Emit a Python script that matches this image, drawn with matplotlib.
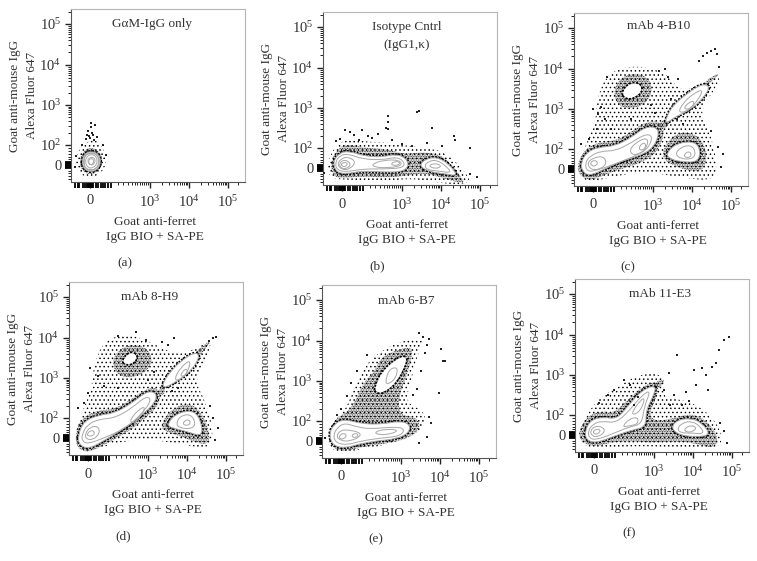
import matplotlib
matplotlib.use("Agg")
import matplotlib.pyplot as plt
from matplotlib.patches import PathPatch
from matplotlib.path import Path
import numpy as np

plt.rcParams['font.family'] = ['Liberation Serif', 'DejaVu Sans']
plt.rcParams['mathtext.fontset'] = 'custom'
plt.rcParams['mathtext.rm'] = 'Liberation Serif'
plt.rcParams['mathtext.default'] = 'rm'
plt.rcParams['hatch.linewidth'] = 0.55

W, H = 757, 561
TEXT = '#333333'
GREY = '#a8a8a8'

# all populations are in axis channels, 0,0 is the "0" tick on both axes
x_ticks = [0, 60, 99, 138]
x_labels = ['0', '$10^{3}$', '$10^{4}$', '$10^{5}$']
y_ticks = [0, 20, 60, 100, 141]
y_labels = ['0', '$10^{2}$', '$10^{3}$', '$10^{4}$', '$10^{5}$']
x_minor = [28, 33, 38, 42, 45, 47, 50, 52, 54, 56, 58,
           72, 79, 84, 87, 90, 92, 94, 96, 97,
           111, 118, 123, 126, 129, 131, 133, 135, 136, 148]
y_minor = [-14, -11, -8, -6, 6, 8, 11, 14, 17,
           32, 39, 44, 48, 51, 53, 55, 57, 58,
           72, 79, 84, 87, 90, 92, 94, 96, 98,
           113, 120, 125, 128, 131, 133, 135, 137, 139, 153]
x_rug = [-15, -12, -11, -7, -5, -3, -2, -1, 0, 1, 2, 3, 6, 8, 11, 13, 15, 18, 21]
y_rug = [-3, -2, -1, 0, 1, 2, 3]

a_sparse = [[(-15, 2), (-11, 16), (-3, 24), (7, 25), (14, 16), (17, 3), (11, -9), (0, -13), (-11, -9)]]
a_dense = [[(-11, 2), (-8, 13), (0, 18), (10, 14), (13, 3), (8, -7), (0, -10), (-8, -6)]]
a_contours = [[(-8, 3), (-6, 11), (1, 14), (9, 11), (11, 2), (7, -5), (0, -7), (-6, -4)],
              [(-7, 3), (-5, 10), (1, 13), (8, 10), (10, 2), (6, -4), (0, -6), (-5, -3)],
              [(-6, 3), (-5, 10), (1, 12), (8, 10), (9, 2), (6, -4), (0, -5), (-5, -3)],
              [(-5, 3), (-3, 9), (2, 11), (7, 8), (7, 1), (3, -3), (-2, -3)],
              [(-3, 4), (0, 8), (5, 7), (5, 2), (1, -1)],
              [(-2, 4), (1, 7), (4, 5), (3, 1), (0, 0)]]
a_dots = [(0, 27), (3, 30), (-2, 34), (1, 38), (5, 40), (-4, 26), (7, 28), (2, 32), (-1, 29),
          (4, 25), (-3, 30), (1, 42), (-8, 20), (13, 20), (16, 10), (-15, -2), (-14, 9)]

b_sparse = [[(-15, 2), (-9, 20), (6, 30), (24, 26), (45, 26), (66, 22), (85, 20), (103, 16), (120, 0),
             (131, -16), (100, -16), (70, -10), (40, -14), (15, -12), (-12, -11)]]
b_dense = [[(-12, 5), (-4, 20), (6, 24), (24, 20), (45, 19), (62, 14), (72, 15), (84, 16), (102, 12),
            (117, -6), (124, -16), (106, -12), (85, -5), (68, -7), (45, -10), (20, -8), (0, -11), (-9, -8)]]
b_contours = [[(-9, 6), (-3, 15), (7, 17), (22, 12), (40, 11), (54, 14), (64, 10), (67, 2), (60, -4),
               (40, -4), (20, -3), (4, -6), (-6, -4)],
              [(-7, 5), (-2, 13), (7, 14), (20, 9), (40, 8), (54, 11), (62, 7), (62, 0), (40, -1), (20, -1), (4, -4), (-5, -2)],
              [(-5, 4), (0, 10), (7, 11), (14, 6), (8, -1), (0, -2)],
              [(-3, 4), (1, 8), (6, 7), (9, 3), (4, -1), (-1, 0)],
              [(-1, 4), (3, 6), (6, 4), (3, 1), (0, 2)],
              [(30, 4), (42, 8), (58, 8), (60, 2), (44, 0), (32, 1)],
              [(48, 4), (54, 7), (59, 5), (54, 2)],
              [(77, 2), (83, 9), (95, 11), (107, 4), (116, -8), (104, -6), (88, -4)],
              [(82, 2), (87, 7), (95, 8), (104, 2), (110, -5), (96, -3), (86, -2)],
              [(86, 2), (93, 5), (100, 2), (94, -1)]]
b_dots = [(-2, 29), (3, 38), (8, 36), (12, 33), (20, 38), (17, 28), (30, 30), (36, 34), (44, 40), (46, 52),
          (46, 46), (46, 39), (75, 56), (77, 57), (90, 40), (112, 32), (113, 28), (128, 20), (60, 24),
          (70, 22), (100, 22), (85, 25), (50, 28), (-6, 27), (26, 32), (135, -9), (128, -6), (-18, -5)]

c_sparse = [[(-15, 3), (-6, 27), (3, 48), (4, 72), (16, 98), (45, 104), (74, 96), (88, 76), (118, 90), (127, 96),
             (125, 84), (106, 58), (116, 40), (124, 8), (122, -12), (90, -9), (50, -2), (10, -10), (-8, -14)]]
c_dense = [[(-16, 5), (-8, 20), (6, 27), (22, 28), (38, 37), (52, 47), (68, 48), (72, 36), (64, 16), (48, 6), (28, 0), (12, -6), (-4, -12), (-14, -6)],
           [(20, 76), (26, 90), (39, 96), (54, 93), (60, 80), (54, 66), (40, 60), (26, 62)],
           [(69, 17), (76, 30), (90, 38), (106, 33), (114, 18), (112, 0), (100, -3), (84, 2), (72, 8)],
           [(64, 42), (70, 50), (78, 48), (73, 40)],
           [(112, 82), (122, 90), (126, 96), (122, 94), (112, 88)]]
c_whites = [[(29, 77), (37, 86), (47, 85), (49, 78), (41, 71), (32, 71)]]
c_contours = [[(-12, 7), (-6, 17), (6, 22), (22, 23), (39, 32), (52, 42), (64, 42), (66, 33), (59, 20), (46, 13), (26, 7), (12, 0), (-4, -7), (-11, -2)],
              [(-8, 6), (-3, 13), (8, 18), (22, 18), (38, 26), (52, 35), (60, 33), (55, 20), (42, 13), (22, 5), (5, -1), (-6, -3)],
              [(-6, 6), (0, 11), (10, 13), (14, 6), (8, 0), (-2, -1)],
              [(-3, 6), (1, 9), (5, 7), (3, 3), (-1, 3)],
              [(36, 20), (48, 30), (56, 30), (52, 18), (40, 13)],
              [(46, 23), (52, 27), (53, 21), (47, 18)],
              [(72, 48), (79, 63), (96, 77), (109, 85), (117, 83), (112, 73), (99, 60), (82, 52), (74, 46)],
              [(85, 56), (90, 66), (100, 75), (110, 80), (106, 70), (95, 58)],
              [(90, 60), (96, 67), (102, 68), (98, 60)],
              [(73, 15), (82, 25), (99, 28), (107, 22), (106, 7), (89, 7), (77, 10)],
              [(82, 15), (88, 22), (98, 24), (103, 17), (100, 10), (88, 10)],
              [(91, 14), (95, 18), (99, 15), (96, 11), (92, 12)]]
c_dots = [(110, 113), (114, 116), (118, 118), (122, 120), (106, 108), (124, 115), (126, 102), (85, 90), (72, 100),
          (75, 92), (66, 98), (5, 55), (-4, 30), (0, 60), (8, 62), (14, 92), (12, 50), (130, 15), (128, 2),
          (125, 22), (118, 38), (90, 45), (84, 50), (4, 40), (-12, 25), (18, 40), (38, 50), (62, 56), (58, 64), (78, 70)]

d_sparse = [[(-14, 2), (-6, 26), (4, 50), (6, 76), (18, 100), (45, 104), (74, 90), (92, 82), (120, 96), (124, 98),
             (118, 78), (106, 58), (118, 36), (126, 5), (120, -12), (95, -6), (50, 0), (10, -10), (-6, -15)]]
d_dense = [[(-13, 3), (-7, 20), (10, 28), (27, 29), (44, 39), (59, 50), (72, 50), (72, 34), (56, 18), (38, 5), (18, -6), (0, -15), (-11, -10)],
           [(24, 76), (30, 88), (44, 94), (60, 90), (65, 76), (56, 64), (40, 60), (28, 64)],
           [(72, 12), (82, 28), (100, 36), (114, 26), (122, 4), (120, -7), (106, -4), (92, 2), (78, 6)],
           [(69, 44), (73, 52), (78, 49), (75, 42)],
           [(106, 84), (114, 92), (124, 98), (118, 90), (112, 82)]]
d_whites = [[(34, 77), (42, 86), (49, 83), (47, 76), (39, 73)]]
d_contours = [[(-10, 3), (-4, 17), (11, 23), (27, 25), (44, 35), (59, 47), (69, 45), (67, 35), (54, 23), (37, 10), (17, -2), (1, -11), (-9, -7)],
              [(-6, 4), (0, 14), (12, 19), (27, 20), (44, 30), (58, 42), (64, 38), (52, 22), (36, 9), (16, 0), (0, -6), (-6, -3)],
              [(-3, 4), (2, 11), (10, 12), (12, 5), (5, -2), (-2, -1)],
              [(-1, 4), (3, 8), (7, 6), (5, 2), (0, 2)],
              [(42, 18), (50, 28), (58, 32), (52, 20), (44, 14)],
              [(74, 53), (81, 65), (94, 78), (107, 86), (112, 82), (104, 68), (91, 58), (77, 50)],
              [(86, 58), (92, 70), (103, 79), (100, 66), (92, 58)],
              [(92, 63), (98, 70), (100, 66), (95, 61)],
              [(79, 13), (86, 23), (101, 28), (111, 23), (116, 1), (97, 7), (84, 10)],
              [(88, 14), (92, 22), (103, 24), (108, 14), (103, 9), (92, 10)],
              [(94, 14), (99, 19), (103, 16), (100, 12)]]
d_dots = [(125, 100), (128, 101), (121, 97), (86, 100), (80, 93), (74, 96), (2, 70), (0, 45), (-4, 35), (10, 62), (16, 52),
          (-10, 30), (130, 10), (127, -2), (125, 20), (122, 32), (90, 50), (84, 47), (30, 50), (60, 58), (66, 66), (58, 98), (48, 106), (30, 102)]

e_sparse = [[(-13, 6), (-8, 20), (4, 30), (12, 50), (24, 76), (40, 90), (60, 100), (84, 104), (76, 85), (70, 60),
             (64, 38), (84, 30), (84, 14), (70, 5), (45, -4), (20, -8), (4, -12), (-10, -9)]]
e_dense = [[(-13, 6), (-7, 21), (4, 28), (12, 35), (22, 58), (34, 70), (40, 84), (58, 92), (72, 94), (70, 80), (64, 60),
            (58, 46), (58, 26), (76, 24), (80, 12), (68, 3), (50, -2), (20, -6), (4, -11), (-9, -7)]]
e_whites = [[(34, 53), (40, 68), (55, 82), (65, 85), (65, 77), (55, 58), (42, 48), (35, 49)]]
e_contours = [[(-12, 7), (-7, 17), (3, 22), (22, 17), (42, 17), (58, 20), (69, 17), (68, 8), (55, 2), (35, 0), (18, -3), (5, -7), (-8, -5)],
              [(-8, 6), (-3, 14), (4, 18), (16, 14), (30, 12), (50, 14), (64, 13), (60, 5), (40, 3), (20, 0), (6, -4), (-5, -2)],
              [(-5, 5), (0, 11), (7, 11), (18, 9), (20, 5), (10, 0), (0, 0)],
              [(-2, 5), (2, 8), (6, 6), (3, 2), (-1, 2)],
              [(10, 5), (14, 8), (18, 6), (14, 3)],
              [(33, 9), (45, 12), (58, 11), (50, 7), (38, 6)],
              [(44, 58), (48, 72), (57, 74), (55, 63), (48, 57)]]
e_dots = [(100, 92), (102, 80), (104, 80), (98, 48), (88, 102), (86, 96), (82, 104), (78, 108), (84, 88), (80, 70),
          (76, 52), (72, 46), (88, 24), (90, 18), (6, 45), (0, 32), (16, 70), (26, 86), (10, 58), (-4, 26), (-16, 3), (86, 4), (78, -2)]

f_sparse = [[(-16, 3), (-6, 22), (4, 36), (26, 50), (48, 62), (72, 60), (68, 38), (84, 36), (104, 30), (124, 12), (130, -12),
             (100, -14), (60, -11), (20, -12), (2, -14), (-13, -9)]]
f_dense = [[(-16, 3), (-6, 20), (8, 24), (20, 22), (30, 32), (50, 50), (66, 55), (62, 35), (55, 22), (60, 14), (78, 16), (97, 22),
            (112, 15), (125, -2), (120, -14), (100, -8), (80, -6), (60, -8), (40, -6), (18, -7), (2, -12), (-12, -8)],
           [(58, 46), (62, 54), (72, 56), (66, 47)]]
f_contours = [[(-9, 5), (-3, 15), (8, 18), (23, 16), (33, 28), (48, 45), (62, 50), (60, 40), (52, 25), (52, 8), (38, 5), (18, -2), (2, -8), (-8, -5)],
              [(-6, 4), (-1, 11), (8, 14), (22, 12), (35, 24), (48, 40), (57, 45), (50, 28), (48, 11), (35, 8), (18, 1), (2, -5), (-5, -3)],
              [(-4, 4), (1, 9), (9, 8), (11, 3), (4, -2), (-2, -1)],
              [(-1, 4), (3, 6), (7, 5), (4, 1), (0, 1)],
              [(28, 8), (35, 16), (44, 18), (44, 11), (35, 9)],
              [(36, 20), (48, 37), (51, 35), (45, 22)],
              [(77, 7), (83, 15), (97, 17), (108, 12), (117, 0), (102, -2), (85, 0)],
              [(83, 6), (88, 12), (98, 14), (107, 8), (110, 1), (98, 2), (87, 2)],
              [(90, 6), (97, 10), (103, 7), (98, 3), (92, 3)]]
f_dots = [(135, 98), (130, 95), (125, 85), (118, 68), (108, 67), (100, 65), (83, 80), (92, 43), (75, 62), (122, 72), (112, 60),
          (70, 45), (80, 40), (76, 30), (95, 34), (88, 30), (130, 4), (133, -8), (126, 12), (30, 55), (36, 50), (14, 40), (20, 45),
          (5, 32), (44, 38), (40, 30), (102, 50), (114, 45)]

# letter, label lines, label centre, left px, top px, then the populations
panels = [
    ('a', ['G\u03b1M-IgG only'], (62, 141), 71, 9, a_sparse, a_dense, [], a_contours, a_dots),
    ('b', ['Isotype Cntrl', '(IgG1,\u03ba)'], (65, 141), 323, 12, b_sparse, b_dense, [], b_contours, b_dots),
    ('c', ['mAb 4-B10'], (66, 143), 574, 13, c_sparse, c_dense, c_whites, c_contours, c_dots),
    ('d', ['mAb 8-H9'], (62, 141), 69, 282, d_sparse, d_dense, d_whites, d_contours, d_dots),
    ('e', ['mAb 6-B7'], (65, 140), 322, 285, e_sparse, e_dense, e_whites, e_contours, e_dots),
    ('f', ['mAb 11-E3'], (66, 141), 575, 279, f_sparse, f_dense, [], f_contours, f_dots),
]


def blob(points):
    # closed quadratic spline through the edge midpoints
    pts = np.array(points, dtype=float)
    mids = (pts + np.roll(pts, -1, axis=0)) / 2
    verts = [mids[-1]]
    codes = [Path.MOVETO]
    for p, m in zip(pts, mids):
        verts += [p, m]
        codes += [Path.CURVE3, Path.CURVE3]
    return Path(verts, codes)


def stipple(ax, p, n, z):
    ax.add_patch(PathPatch(blob(p), fill=False, edgecolor='black', hatch='.' * n, lw=0, zorder=z))


fig = plt.figure(figsize=(W / 100, H / 100), dpi=100)

for letter, title, title_pos, left, top, sparse, dense, whites, contours, dots in panels:
    ax = fig.add_axes([left / W, 1 - (top + 173) / H, 174 / W, 173 / H])
    ax.set_xlim(-19, 155)
    ax.set_ylim(-17, 156)

    for p in sparse:
        stipple(ax, p, 4, 1)
    for p in dense:
        stipple(ax, p, 10, 2)
    # the black rim that hugs the outer contours
    for p in contours:
        if len(p) > 5:
            ax.add_patch(PathPatch(blob(p), fill=False, edgecolor='black', lw=2.6, ls=(0, (0.5, 0.4)), zorder=2.5))
    for p in whites:
        ax.add_patch(PathPatch(blob(p), fill=False, edgecolor='black', lw=2.6, ls=(0, (0.5, 0.4)), zorder=2.5))
        ax.add_patch(PathPatch(blob(p), facecolor='white', edgecolor='none', zorder=3))
    for p in contours:
        if len(p) > 5:
            ax.add_patch(PathPatch(blob(p), facecolor='white', edgecolor='none', zorder=3))
    for p in contours:
        ax.add_patch(PathPatch(blob(p), fill=False, edgecolor=GREY, lw=0.7, zorder=4))
    ax.scatter([d[0] for d in dots], [d[1] for d in dots], s=1.0, c='#222222', marker='s', lw=0, zorder=5)

    for i, line in enumerate(title):
        ax.text(title_pos[0], title_pos[1] - 18 * i, line, ha='center', va='center', fontsize=9.5, color=TEXT)

    ax.set_xticks(x_ticks, x_labels)
    ax.set_yticks(y_ticks, y_labels)
    ax.set_xticks(x_minor, minor=True)
    ax.set_yticks(y_minor, minor=True)
    ax.tick_params(which='major', length=4, width=1, color='#222222', labelsize=10.5, labelcolor=TEXT)
    ax.tick_params(which='minor', length=2.5, width=0.7, color='#222222')
    ax.tick_params(axis='x', which='major', pad=5)
    ax.tick_params(axis='y', which='major', pad=3)
    ax.plot(x_rug, np.zeros(len(x_rug)), ls='', marker=3, ms=4, mew=1.3, color='black',
            transform=ax.get_xaxis_transform(), clip_on=False)
    ax.plot(np.zeros(len(y_rug)), y_rug, ls='', marker=0, ms=4, mew=1.3, color='black',
            transform=ax.get_yaxis_transform(), clip_on=False)
    for side in ['top', 'right']:
        ax.spines[side].set_color('#b5b5b5')
        ax.spines[side].set_linewidth(0.8)
    for side in ['left', 'bottom']:
        ax.spines[side].set_color('#555555')
        ax.spines[side].set_linewidth(0.8)

    ax.set_xlabel('Goat anti-ferret\nIgG BIO + SA-PE', fontsize=9.5, color=TEXT, linespacing=1.4)
    ax.xaxis.set_label_coords(0.485, -0.195, transform=ax.transAxes)
    ax.xaxis.label.set_va('top')
    ax.set_ylabel('Goat anti-mouse IgG\nAlexa Fluor 647', fontsize=9.5, color=TEXT, linespacing=1.5)
    ax.yaxis.set_label_coords(-0.19, 0.5, transform=ax.transAxes)
    ax.text(0.31, -0.47, '(%s)' % letter, transform=ax.transAxes, ha='center', va='center', fontsize=9.5, color=TEXT)

fig.savefig('out.png', dpi=100)
